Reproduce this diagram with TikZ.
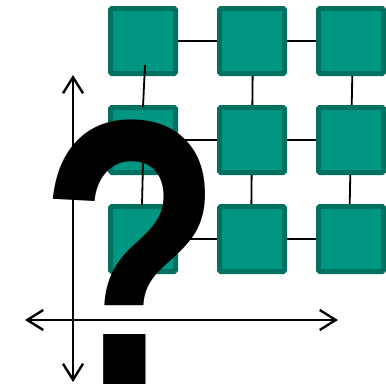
\documentclass[tikz,border=0pt]{standalone}
\usepackage{fontspec}
\newfontfamily\qfont{Liberation Sans}
\usetikzlibrary{arrows.meta,calc}
\pgfdeclarelayer{background}
\pgfsetlayers{background,main}
\definecolor{tealfill}{RGB}{0,150,130}
\definecolor{tealedge}{RGB}{0,112,96}
\begin{document}
\begin{tikzpicture}[x=1pt,y=-1pt,
  cell/.style={draw=tealedge, fill=tealfill, line width=5pt, minimum size=65pt, inner sep=0pt, rounded corners=1.5pt},
  link/.style={line width=1.8pt, draw=black},
  axis/.style={line width=2.4pt, draw=black, {Straight Barb[length=16pt,width=20pt]}-{Straight Barb[length=16pt,width=20pt]}},
  qmark/.style={inner sep=0pt, anchor=base west, font=\qfont\bfseries\fontsize{300}{300}\selectfont}]
\useasboundingbox (0,0) rectangle (386,386);
% squares
\node[cell] (c11) at (143,41) {};
\node[cell] (c12) at (252,41) {};
\node[cell] (c13) at (351,41) {};
\node[cell] (c21) at (143,140) {};
\node[cell] (c22) at (252,140) {};
\node[cell] (c23) at (351,140) {};
\node[cell] (c31) at (143,239) {};
\node[cell] (c32) at (252,239) {};
\node[cell] (c33) at (351,239) {};
% connectors behind squares
\begin{pgfonlayer}{background}
\draw[link] (c11.center) -- (c12.center) -- (c13.center);
\draw[link] (c21.center) -- (c22.center) -- (c23.center);
\draw[link] (c31.center) -- (c32.center) -- (c33.center);
\draw[link] ($(c12.center)+(1,0)$) -- ($(c32.center)+(-1,0)$);
\draw[link] ($(c13.center)+(2,0)$) -- ($(c33.center)+(-2,0)$);
\end{pgfonlayer}
% first column links on top
\coordinate (v1a) at (145,65);
\coordinate (v1b) at (143,107);
\coordinate (v2a) at (143,163);
\coordinate (v2b) at (142,205);
\draw[link] (v1a) -- (v1b);
\draw[link] (v2a) -- (v2b);
% axes
\coordinate (ytop) at (73,75);
\coordinate (ybot) at (73,382);
\coordinate (xleft) at (25,320);
\coordinate (xright) at (338,320);
\draw[axis] (ybot) -- (ytop);
\draw[axis] (xleft) -- (xright);
% question mark
\node[qmark] (q) at (39.5,384) {\scalebox{1}[1.263]{?}};
\end{tikzpicture}
\end{document}
